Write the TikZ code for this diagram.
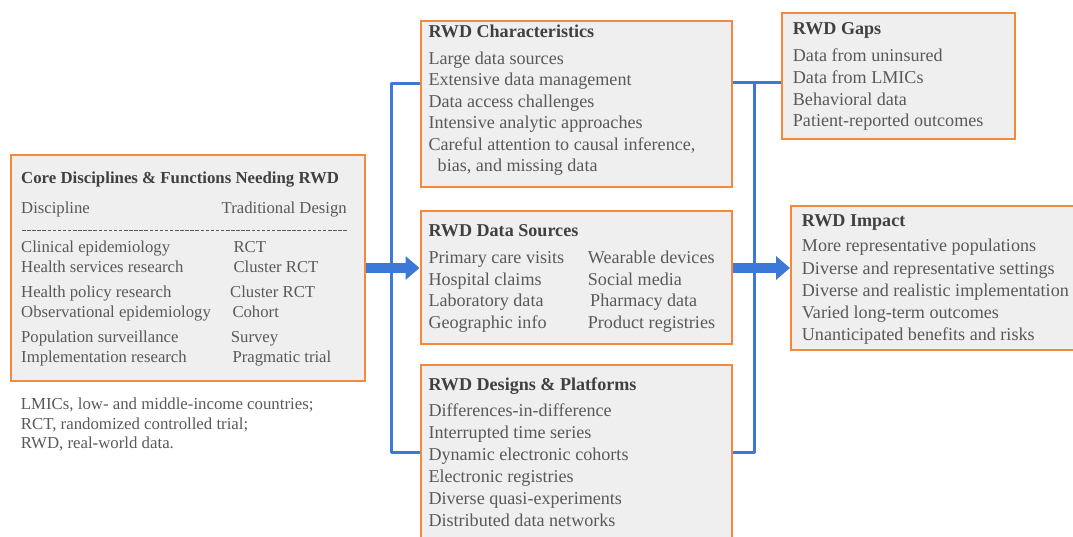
\documentclass[tikz,border=0pt]{standalone}
\usepackage{fontspec}
\setmainfont{Liberation Serif}
\usetikzlibrary{arrows.meta}
\definecolor{boxorange}{HTML}{F4893C}
\definecolor{boxfill}{HTML}{EFEFEF}
\definecolor{linkblue}{HTML}{3C78D8}
\definecolor{txtgray}{HTML}{595959}
\definecolor{ttlgray}{HTML}{404040}
\begin{document}
\begin{tikzpicture}[x=1pt,y=-1pt,
  box/.style={draw=boxorange,fill=boxfill,line width=2pt,rectangle,anchor=north west,inner sep=0pt},
  ttl/.style={anchor=base west,inner sep=0pt,text=ttlgray,font=\fontsize{18.1}{21}\selectfont\bfseries},
  itm/.style={anchor=base west,inner sep=0pt,text=txtgray,font=\fontsize{18.1}{21}\selectfont},
  citm/.style={anchor=base west,inner sep=0pt,text=txtgray,font=\fontsize{16.7}{20}\selectfont},
  cttl/.style={anchor=base west,inner sep=0pt,text=ttlgray,font=\fontsize{16.8}{20}\selectfont\bfseries},
  note/.style={anchor=base west,inner sep=0pt,text=txtgray,font=\fontsize{16.8}{19}\selectfont},
  conn/.style={draw=linkblue,line width=3pt},
  bigarrow/.style={draw=linkblue,line width=10pt,-{Triangle[width=23pt,length=14pt]}}]
\useasboundingbox (0,0) rectangle (1073,536);

% boxes
\node[box,minimum width=354.5pt,minimum height=226pt] (core) at (9.5,154) {};
\node[box,minimum width=311pt,minimum height=166pt] (char) at (419.5,20) {};
\node[box,minimum width=311pt,minimum height=133pt] (src) at (419.5,210) {};
\node[box,minimum width=311pt,minimum height=190pt] (des) at (419.5,363.5) {};
\node[box,minimum width=233pt,minimum height=125.5pt] (gaps) at (781,12) {};
\node[box,minimum width=300pt,minimum height=144pt] (imp) at (790,205) {};

% thick arrows
\draw[bigarrow] (core.east) -- (core.east -| src.west);
\draw[bigarrow] (core.east -| src.east) -- (core.east -| imp.west);

% brackets
\coordinate (lt) at (391,83);
\coordinate (lb) at (391,452);
\coordinate (rt) at (754,82);
\coordinate (rb) at (754,452);
\draw[conn,line join=round] (char.west |- lt) -- (lt) -- (lb) -- (des.west |- lb);
\draw[conn] (char.east |- rt) -- (gaps.west |- rt);
\draw[conn,line join=round] (rt) -- (rb) -- (des.east |- rb);

% core box text
\node[cttl] (coret) at (21,183.3) {Core Disciplines \& Functions Needing RWD};
\node[citm] (coreh1) at (21,213.3) {Discipline};
\node[citm,anchor=base east] (coreh2) at (347,213.3) {Traditional Design};
\coordinate (dl) at (22,230);
\coordinate (dr) at (348,230);
\draw[txtgray,line width=1pt,dash pattern=on 3.5pt off 1.6pt] (dl) -- (dr);
\node[citm] (c1a) at (21,252.7) {Clinical epidemiology};
\node[citm] (c1b) at (233.3,252.7) {RCT};
\node[citm] (c2a) at (21,272.7) {Health services research};
\node[citm] (c2b) at (233.3,272.7) {Cluster RCT};
\node[citm] (c3a) at (21,297.7) {Health policy research};
\node[citm] (c3b) at (230,297.7) {Cluster RCT};
\node[citm] (c4a) at (21,317.7) {Observational epidemiology};
\node[citm] (c4b) at (232.3,317.7) {Cohort};
\node[citm] (c5a) at (21,342.7) {Population surveillance};
\node[citm] (c5b) at (230.7,342.7) {Survey};
\node[citm] (c6a) at (21,362.3) {Implementation research};
\node[citm] (c6b) at (232.3,362.3) {Pragmatic trial};

% footnote
\node[note] (n1) at (20.7,409.3) {LMICs, low- and middle-income countries;};
\node[note] (n2) at (20.7,429.3) {RCT, randomized controlled trial;};
\node[note] (n3) at (20.7,448.8) {RWD, real-world data.};

% characteristics
\node[ttl] (chart) at (428.3,37.3) {RWD Characteristics};
\node[itm] (ch1) at (428.3,64) {Large data sources};
\node[itm] (ch2) at (428.3,85.5) {Extensive data management};
\node[itm] (ch3) at (428.3,107) {Data access challenges};
\node[itm] (ch4) at (428.3,128.5) {Intensive analytic approaches};
\node[itm] (ch5) at (428.3,150) {Careful attention to causal inference,};
\node[itm] (ch6) at (437.5,171.5) {bias, and missing data};

% data sources
\node[ttl] (srct) at (428.3,236.7) {RWD Data Sources};
\node[itm] (s1a) at (428.3,263.3) {Primary care visits};
\node[itm] (s1b) at (587.7,263.3) {Wearable devices};
\node[itm] (s2a) at (428.3,285) {Hospital claims};
\node[itm] (s2b) at (587.7,285) {Social media};
\node[itm] (s3a) at (428.3,306.7) {Laboratory data};
\node[itm] (s3b) at (590,306.7) {Pharmacy data};
\node[itm] (s4a) at (428.3,328.3) {Geographic info};
\node[itm] (s4b) at (587.7,328.3) {Product registries};

% designs
\node[ttl] (dest) at (428.3,390) {RWD Designs \& Platforms};
\node[itm] (d1) at (428.3,416.7) {Differences-in-difference};
\node[itm] (d2) at (428.3,438.6) {Interrupted time series};
\node[itm] (d3) at (428.3,460.5) {Dynamic electronic cohorts};
\node[itm] (d4) at (428.3,482.4) {Electronic registries};
\node[itm] (d5) at (428.3,504.3) {Diverse quasi-experiments};
\node[itm] (d6) at (428.3,526) {Distributed data networks};

% gaps
\node[ttl] (gapt) at (792.7,34.3) {RWD Gaps};
\node[itm] (g1) at (792.7,61.7) {Data from uninsured};
\node[itm] (g2) at (792.7,83.3) {Data from LMICs};
\node[itm] (g3) at (792.7,105) {Behavioral data};
\node[itm] (g4) at (792.7,126.7) {Patient-reported outcomes};

% impact
\node[ttl] (impt) at (801.7,226.7) {RWD Impact};
\node[itm] (i1) at (801.7,251.7) {More representative populations};
\node[itm] (i2) at (801.7,274) {Diverse and representative settings};
\node[itm] (i3) at (801.7,296) {Diverse and realistic implementation};
\node[itm] (i4) at (801.7,318.3) {Varied long-term outcomes};
\node[itm] (i5) at (801.7,340) {Unanticipated benefits and risks};
\end{tikzpicture}
\end{document}
